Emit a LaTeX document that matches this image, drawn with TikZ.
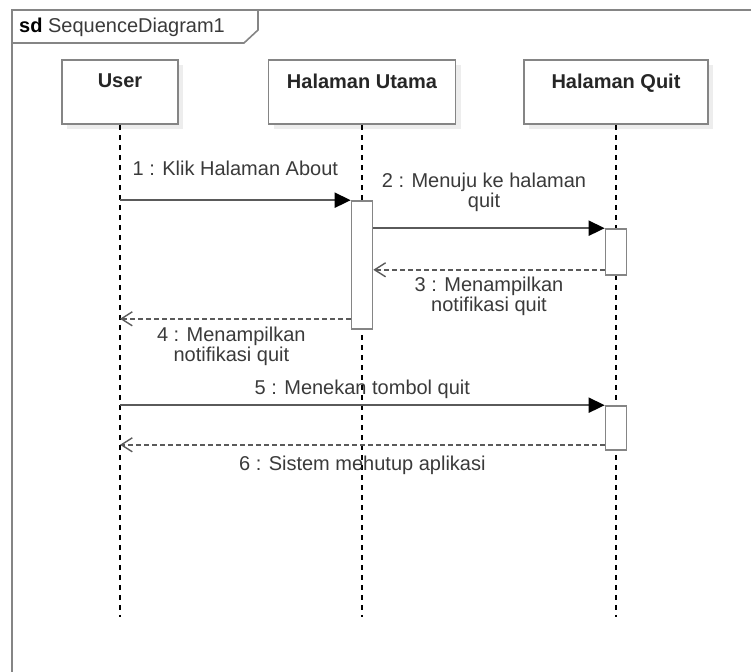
\documentclass[tikz,border=0pt]{standalone}
\usepackage{fontspec}
\setmainfont{Liberation Sans}
\usetikzlibrary{arrows.meta}
\usetikzlibrary{calc}
\usetikzlibrary{positioning}
\usetikzlibrary{shadows}
\definecolor{framegray}{HTML}{858585}
\definecolor{linegray}{HTML}{5A5A5A}
\definecolor{txtgray}{HTML}{3A3A3A}

\begin{document}
\begin{tikzpicture}[
    x=1pt, y=-1pt,
    font=\fontsize{20}{20}\selectfont,
    head/.style={draw=framegray, line width=1.6pt, fill=white, minimum height=64pt, inner sep=0pt,
        drop shadow={shadow xshift=5pt, shadow yshift=-5pt, fill=black!7, opacity=1}},
    headtext/.style={font=\fontsize{20}{20}\selectfont\bfseries, text=black!85},
    act/.style={draw=framegray, line width=1.6pt, fill=white, minimum width=21pt, inner sep=0pt},
    lifeline/.style={black, line width=1.1pt, dash pattern=on 5pt off 5pt},
    msg/.style={-{Triangle[length=16pt,width=15pt,color=black]}, linegray, line width=1.8pt},
    ret/.style={-{Straight Barb[length=11pt,width=14pt]}, linegray, line width=1.4pt, dash pattern=on 5pt off 3pt},
    lbl/.style={text=txtgray, align=center, inner sep=0pt}
]
  \useasboundingbox (0,0) rectangle (751,671);

  % Frame with title tab
  \draw[framegray, line width=1.8pt] (12,10) rectangle (790,710);
  \draw[framegray, line width=1.6pt] (258,10) -- (258,30) -- (244,43) -- (12,43);
  \node[anchor=west, inner sep=0pt, text=txtgray] (title) at (19,27) {\textbf{\color{black}sd} SequenceDiagram1};

  % Lifeline heads
  \node[head, minimum width=116pt, label={[headtext, anchor=north, yshift=-11pt]north:User}] (user) at (120,92) {};
  \node[head, minimum width=187pt, label={[headtext, anchor=north, yshift=-11pt]north:Halaman Utama}] (utama) at (362,92) {};
  \node[head, minimum width=184pt, label={[headtext, anchor=north, yshift=-11pt]north:Halaman Quit}] (quit) at (616,92) {};

  % Lifelines
  \coordinate (bottom) at (0,617);
  \draw[lifeline] (user.south) -- (user.south |- bottom);
  \draw[lifeline] (utama.south) -- (utama.south |- bottom);
  \draw[lifeline] (quit.south) -- (quit.south |- bottom);

  % Activations
  \node[act, minimum height=128pt] (act1) at (utama.south |- 0,265) {};
  \node[act, minimum height=46pt] (act2) at (quit.south |- 0,252) {};
  \node[act, minimum height=44pt] (act3) at (quit.south |- 0,428) {};

  % Return points
  \coordinate (r3) at ($(act2.south west)+(0,-6)$);
  \coordinate (r4) at ($(act1.south west)+(0,-11)$);
  \coordinate (r6) at ($(act3.south west)+(0,-6)$);

  % Messages
  \draw[msg] (user.south |- act1.north) -- (act1.north west)
      node[lbl, midway, above=24pt] {1 : Klik Halaman About};
  \draw[msg] (act1.east |- act2.north) -- (act2.north west)
      node[lbl, midway, above=16pt, xshift=-5pt] {2 : Menuju ke halaman\\quit};
  \draw[ret] (r3) -- (act1.east |- r3)
      node[lbl, midway, below=7pt] {3 : Menampilkan\\notifikasi quit};
  \draw[ret] (r4) -- (user.south |- r4)
      node[lbl, midway, below=8pt, xshift=-4pt] {4 : Menampilkan\\notifikasi quit};
  \draw[msg] (user.south |- act3.north) -- (act3.north west)
      node[lbl, midway, above=6pt] {5 : Menekan tombol quit};
  \draw[ret] (r6) -- (user.south |- r6)
      node[lbl, midway, below=11pt] {6 : Sistem mehutup aplikasi};

\end{tikzpicture}
\end{document}
